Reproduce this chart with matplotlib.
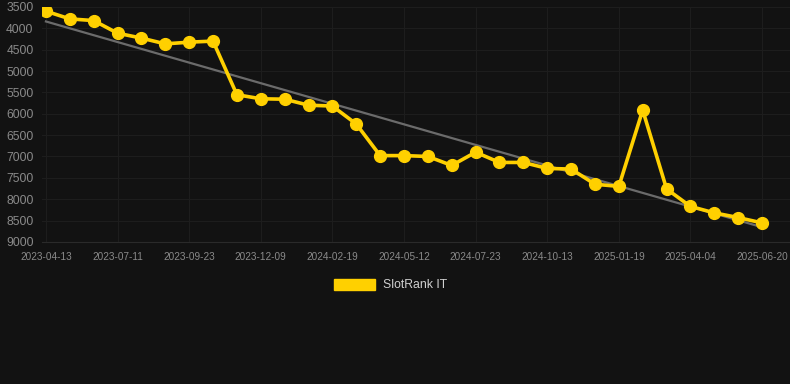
import numpy as np
import matplotlib.pyplot as plt

plt.rcParams['font.family'] = ['Liberation Sans', 'DejaVu Sans']

# rank values, one every ~25 days, first 2023-04-13, last 2025-06-20
ranks = [3600, 3780, 3820, 4115, 4230, 4365, 4325, 4300, 5555, 5650,
         5660, 5800, 5820, 6240, 6980, 6980, 7000, 7210, 6900, 7140,
         7140, 7280, 7295, 7650, 7700, 5915, 7760, 8170, 8320, 8430,
         8555]
tick_labels = ['2023-04-13', '2023-07-11', '2023-09-23', '2023-12-09',
               '2024-02-19', '2024-05-12', '2024-07-23', '2024-10-13',
               '2025-01-19', '2025-04-04', '2025-06-20']
y_ticks = [3500, 4000, 4500, 5000, 5500, 6000, 6500, 7000, 7500, 8000, 8500, 9000]
series_name = 'SlotRank IT'

bg = '#121212'
gold = '#FFD000'

fig = plt.figure(figsize=(7.9, 3.84), dpi=100, facecolor=bg)
ax = fig.add_axes([0.053, 0.370, 0.947, 0.612])
ax.set_facecolor(bg)

x = np.arange(len(ranks))
# linear trend over the series
k, b = np.polyfit(x, ranks, 1)
ax.plot(x, k * x + b, color='#6b6b6b', lw=1.6, zorder=2)

ax.plot(x, ranks, color=gold, lw=2.6, marker='o', ms=8.5,
        markerfacecolor=gold, markeredgecolor=gold, zorder=3,
        label=series_name)

ax.set_ylim(9000, 3500)
ax.set_xlim(-0.17, len(ranks) - 1 + 1.17)
ax.set_yticks(y_ticks)
ax.set_xticks(x[::3])
ax.set_xticklabels(tick_labels)

ax.grid(True, color='#1d1d1d', lw=0.8)
for s in ax.spines.values():
    s.set_visible(False)
ax.spines['bottom'].set_visible(True)
ax.spines['bottom'].set_color('#2a2a2a')
ax.spines['bottom'].set_linewidth(0.8)
ax.tick_params(axis='y', colors='#8a8a8a', labelsize=8.7, length=0, pad=6)
ax.tick_params(axis='x', colors='#8a8a8a', labelsize=7.2, length=0, pad=7)

leg = fig.legend(handles=[plt.Rectangle((0, 0), 1, 1, color=gold)],
                 labels=[series_name], loc='center', bbox_to_anchor=(0.494, 0.258),
                 frameon=False, handlelength=3.4, handleheight=1.0,
                 fontsize=8.8, handletextpad=0.6)
for t in leg.get_texts():
    t.set_color('#d0d0d0')

fig.savefig('out.png', dpi=100, facecolor=bg)
